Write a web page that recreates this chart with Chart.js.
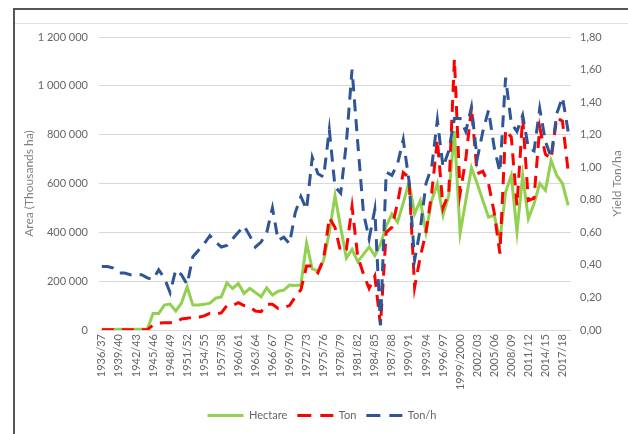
<!DOCTYPE html>
<html>
<head>
<meta charset="utf-8">
<title>Area, production and yield</title>
<script src="https://cdn.jsdelivr.net/npm/chart.js@4.4.1/dist/chart.umd.min.js"></script>
<style>
  html, body { margin: 0; padding: 0; background: #fff; }
  #wrap { position: relative; width: 628px; height: 434px; overflow: hidden; }
  #wrap canvas { position: absolute; left: 0; top: 0; }
  #frame { position: absolute; left: 13px; top: 8px; width: 700px; height: 500px;
           border-left: 2px solid #555; border-top: 2px solid #555; box-sizing: border-box; }
  #rule { position: absolute; left: 15px; top: 23px; right: 0; height: 1px; background: #e2e2e2; }
</style>
</head>
<body>
<div id="wrap">
  <canvas id="yieldChart" width="628" height="434"></canvas>
  <div id="frame"></div>
  <div id="rule"></div>
</div>
<script>
// Seasons on the x axis
const seasons = [
  "1936/37", "1937/38", "1938/39", "1939/40", "1940/41", "1941/42", "1942/43", "1943/44", "1944/45",
  "1945/46", "1946/47", "1947/48", "1948/49", "1949/50", "1950/51", "1951/52", "1952/53", "1953/54",
  "1954/55", "1955/56", "1956/57", "1957/58", "1958/59", "1959/60", "1960/61", "1961/62", "1962/63",
  "1963/64", "1964/65", "1965/66", "1966/67", "1967/68", "1968/69", "1969/70", "1970/71", "1971/72",
  "1972/73", "1973/74", "1974/75", "1975/76", "1976/77", "1977/78", "1978/79", "1979/80", "1980/81",
  "1981/82", "1982/83", "1983/84", "1984/85", "1985/86", "1986/87", "1987/88", "1988/89", "1989/90",
  "1990/91", "1991/92", "1992/93", "1993/94", "1994/95", "1995/96", "1996/97", "1997/98", "1998/99",
  "1999/2000", "2000/01", "2001/02", "2002/03", "2003/04", "2004/05", "2005/06", "2006/07", "2007/08",
  "2008/09", "2009/10", "2010/11", "2011/12", "2012/13", "2013/14", "2014/15", "2015/16", "2016/17",
  "2017/18", "2018/19"
];

// Area harvested (left axis)
const hectare = [
  2600, 2400, 2500, 2700, 2600, 2800, 2900, 3000, 3300,
  68000, 68000, 102000, 106000, 78000, 110000, 177000, 102000, 102000, 105000, 110000,
  130000, 135000, 193000, 170000, 190000, 150000, 170000, 154000, 136000, 173000,
  143000, 159000, 163000, 184000, 182000, 184000, 356000, 250000, 242000, 285000,
  400000, 550000, 420000, 295000, 330000, 280000, 310000, 340000, 305000, 350000,
  425000, 475000, 442000, 520000, 605000, 476000, 530000, 400000, 530000, 600000,
  470000, 550000, 815000, 396000, 530000, 664000, 600000, 530000, 462000, 470000,
  368000, 565000, 633000, 402000, 633000, 456000, 517000, 600000, 572000, 694000,
  633000, 600000, 510000
];

// Production (left axis)
const ton = [
  1000, 900, 950, 950, 900, 950, 980, 1000, 1050,
  20000, 28000, 30000, 30000, 32000, 45000, 48000, 52000, 52000, 58000, 68000,
  66000, 70000, 100000, 100000, 112000, 100000, 95000, 78000, 75000, 105000,
  105000, 88000, 92000, 100000, 135000, 165000, 262000, 262000, 235000, 290000,
  460000, 420000, 320000, 330000, 505000, 300000, 230000, 170000, 220000, 20000,
  400000, 420000, 520000, 645000, 625000, 175000, 300000, 400000, 560000, 780000,
  500000, 560000, 1110000, 560000, 700000, 910000, 640000, 650000, 600000, 480000,
  313000, 820000, 790000, 510000, 870000, 530000, 540000, 830000, 720000, 700000,
  870000, 855000, 650000
];

// Yield (right axis)
const tonPerHa = [
  0.39, 0.39, 0.38, 0.35, 0.35, 0.34, 0.34, 0.34, 0.32,
  0.31, 0.37, 0.32, 0.23, 0.37, 0.34, 0.28, 0.45, 0.49, 0.53, 0.58,
  0.54, 0.51, 0.52, 0.56, 0.60, 0.64, 0.58, 0.51, 0.54, 0.60,
  0.75, 0.55, 0.57, 0.53, 0.72, 0.82, 0.74, 1.06, 0.96, 0.94,
  1.23, 0.88, 0.84, 1.15, 1.60, 1.15, 0.72, 0.56, 0.74, 0.03,
  0.97, 0.95, 1.02, 1.17, 0.92, 0.43, 0.62, 0.90, 1.00, 1.29,
  1.00, 1.10, 1.30, 1.30, 1.22, 1.37, 1.05, 1.22, 1.35, 1.12,
  0.97, 1.55, 1.27, 1.22, 1.32, 1.12, 1.10, 1.36, 1.16, 1.06,
  1.33, 1.43, 1.22
];

const textColor = '#666666';
const tickFont = { family: 'Lato', size: 11 };

function spaced(n) {
  return String(Math.round(n)).replace(/\B(?=(\d{3})+(?!\d))/g, ' ');
}

// Right axis title reads bottom-to-top like the left one
const rightTitle = {
  id: 'rightTitle',
  afterDraw(chart) {
    const { ctx, chartArea } = chart;
    const s = chart.scales.y1;
    ctx.save();
    ctx.translate(s.right - 11, (chartArea.top + chartArea.bottom) / 2);
    ctx.rotate(-Math.PI / 2);
    ctx.font = '12px Lato';
    ctx.fillStyle = '#808080';
    ctx.textAlign = 'center';
    ctx.textBaseline = 'middle';
    ctx.fillText('Yield Ton/ha', 0, 0);
    ctx.restore();
  }
};

new Chart(document.getElementById('yieldChart'), {
  type: 'line',
  data: {
    labels: seasons,
    datasets: [
      {
        label: 'Hectare',
        data: hectare,
        yAxisID: 'y',
        borderColor: '#92D050',
        backgroundColor: '#92D050',
        borderWidth: 3,
        order: 3
      },
      {
        label: 'Ton',
        data: ton,
        yAxisID: 'y',
        borderColor: '#FF0000',
        backgroundColor: '#FF0000',
        borderWidth: 3,
        borderDash: [12, 8],
        order: 2
      },
      {
        label: 'Ton/h',
        data: tonPerHa,
        yAxisID: 'y1',
        borderColor: '#2F5597',
        backgroundColor: '#2F5597',
        borderWidth: 3,
        borderDash: [12, 8],
        order: 1
      }
    ]
  },
  options: {
    responsive: false,
    animation: false,
    devicePixelRatio: 1,
    elements: {
      point: { radius: 0, hoverRadius: 0 },
      line: { tension: 0 }
    },
    layout: { padding: { left: 16, top: 37, right: 0, bottom: 3 } },
    scales: {
      x: {
        offset: true,
        grid: { display: false, drawTicks: false },
        border: { display: false },
        ticks: {
          autoSkip: false,
          minRotation: 90,
          maxRotation: 90,
          padding: 4,
          color: textColor,
          font: tickFont,
          callback: function(value, index) {
            return index % 3 === 0 ? seasons[index] : '';
          }
        },
        afterFit: function(scale) { scale.height = 70; }
      },
      y: {
        position: 'left',
        min: 0,
        max: 1200000,
        grid: { color: '#d9d9d9', drawTicks: false },
        border: { display: false },
        ticks: {
          stepSize: 200000,
          padding: 11,
          color: textColor,
          font: tickFont,
          callback: function(value) { return spaced(value); }
        },
        title: {
          display: true,
          text: 'Area (Thousands ha)',
          color: '#808080',
          font: { family: 'Lato', size: 12 },
          padding: { top: 6, bottom: 0 }
        },
        afterFit: function(scale) { scale.width = 83; }
      },
      y1: {
        position: 'right',
        min: 0,
        max: 1.8,
        grid: { drawOnChartArea: false, drawTicks: false },
        border: { display: false },
        ticks: {
          stepSize: 0.2,
          padding: 9,
          color: textColor,
          font: tickFont,
          callback: function(value) { return value.toFixed(2).replace('.', ','); }
        },
        afterFit: function(scale) { scale.width = 57; }
      }
    },
    plugins: {
      legend: {
        position: 'bottom',
        labels: {
          usePointStyle: true,
          pointStyle: 'line',
          pointStyleWidth: 36,
          padding: 10,
          color: textColor,
          font: tickFont,
          // build items from the datasets so the dashes show in the legend
          generateLabels: function(chart) {
            return chart.data.datasets.map(function(ds, i) {
              return {
                text: ds.label,
                fillStyle: ds.borderColor,
                strokeStyle: ds.borderColor,
                lineWidth: ds.borderWidth,
                lineDash: ds.borderDash ? [14, 9] : [],
                lineCap: 'butt',
                pointStyle: 'line',
                fontColor: textColor,
                hidden: false,
                datasetIndex: i
              };
            });
          }
        }
      },
      tooltip: { enabled: false }
    }
  },
  plugins: [rightTitle]
});
</script>
</body>
</html>
